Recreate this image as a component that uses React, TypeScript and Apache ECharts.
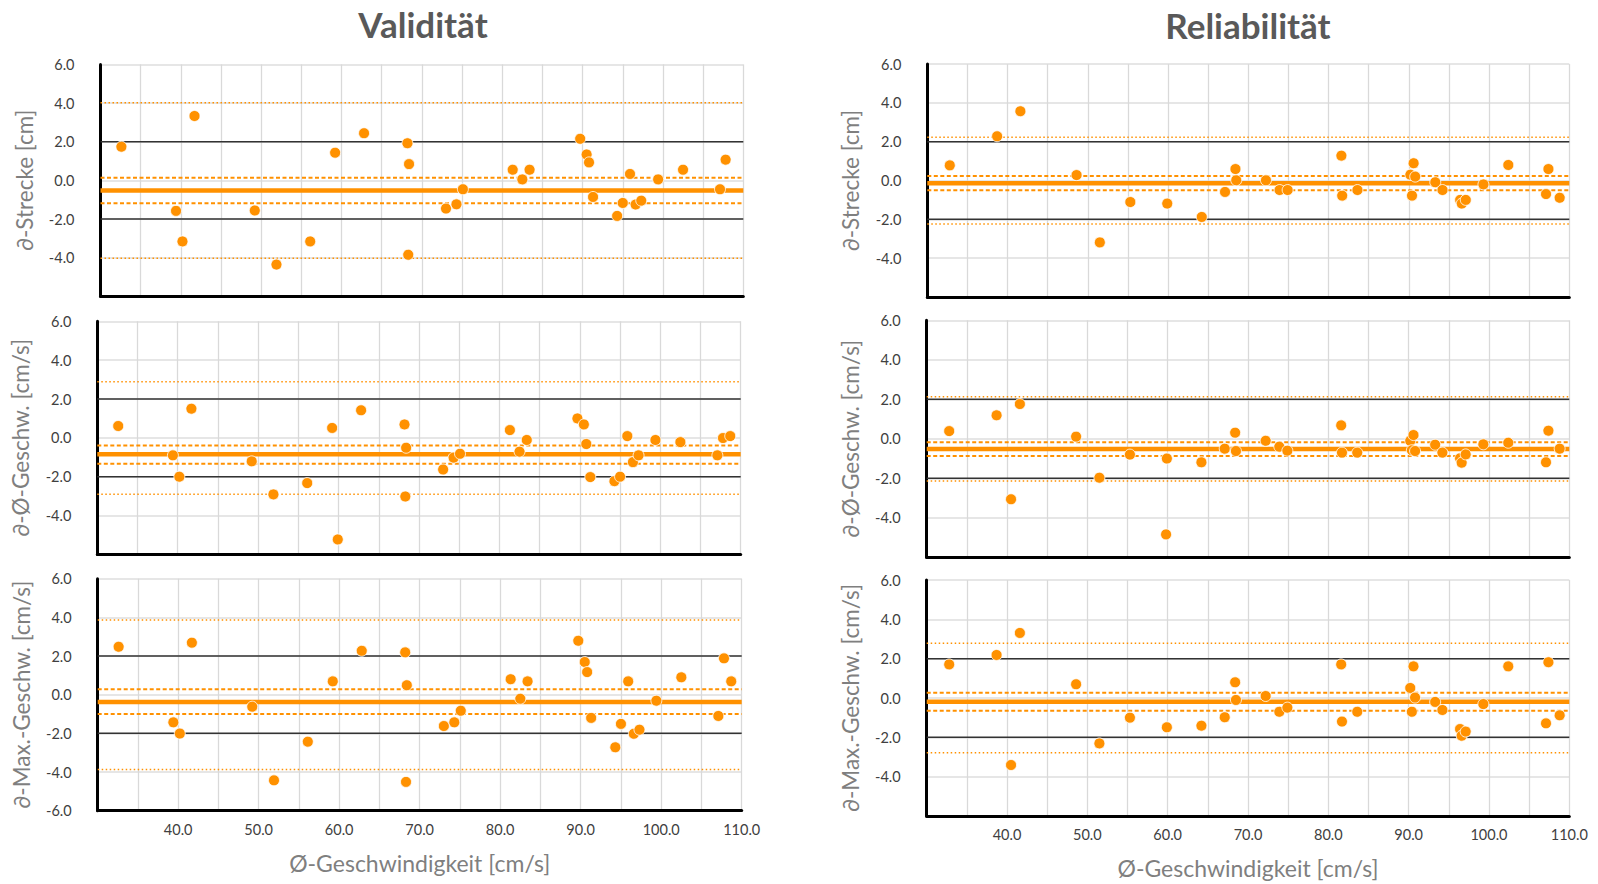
import React, { useEffect, useRef } from 'react';
import * as echarts from 'echarts';

// ---------------- DATA ----------------
const columnTitles = ['Validität', 'Reliabilität'];
const yAxisNames = ['∂-Strecke [cm]', '∂-Ø-Geschw. [cm/s]', '∂-Max.-Geschw. [cm/s]'];
const xAxisName = 'Ø-Geschwindigkeit [cm/s]';

// mean speed (x) – validity column
const valX = [32.6, 39.4, 40.2, 41.7, 49.2, 51.9, 56.1, 59.2, 59.9, 62.8, 68.2, 68.3, 68.4, 73.0, 74.3, 75.1, 81.3, 82.5, 83.4,
  89.7, 90.5, 90.8, 91.3, 94.3, 95.0, 95.9, 96.6, 97.3, 99.4, 102.5, 107.1, 107.8, 108.7];
const valStreckeY = [1.74, -1.58, -3.16, 3.33, -1.56, -4.36, -3.16, 1.43, null, 2.44, 1.92, -3.85, 0.84, -1.46, -1.24, -0.46, 0.55, 0.05, 0.55,
  2.15, 1.34, 0.93, -0.86, -1.84, -1.17, 0.33, -1.25, -1.05, 0.05, 0.55, -0.46, 1.07, null];
const valMittelY = [0.61, -0.90, -2.0, 1.50, -1.21, -2.91, -2.33, 0.51, -5.23, 1.42, 0.69, -3.02, -0.51, -1.63, -1.02, -0.82, 0.40, -0.71, -0.11,
  1.0, 0.69, -0.32, -2.02, -2.23, -2.0, 0.09, -1.25, -0.90, -0.11, -0.22, -0.90, -0.01, 0.09];
const valMaxY = [2.48, -1.43, -2.01, 2.69, -0.62, -4.43, -2.43, 0.69, null, 2.27, 2.19, -4.51, 0.49, -1.62, -1.43, -0.83, 0.80, -0.21, 0.69,
  2.79, 1.69, 1.17, -1.2, -2.72, -1.51, 0.69, -2.02, -1.81, -0.31, 0.90, -1.10, 1.88, 0.69];

// mean speed (x) – reliability column
const relX = [32.8, 38.7, 40.5, 41.6, 48.6, 51.5, 55.3, 59.8, 59.9, 64.2, 67.1, 68.4, 68.5, 72.2, 73.9, 74.9, 81.6, 81.7, 83.6,
  90.2, 90.4, 90.6, 90.8, 93.3, 94.2, 96.4, 96.6, 97.1, 99.3, 102.4, 107.1, 107.4, 108.8];
const relStreckeY = [0.78, 2.28, null, 3.57, 0.28, -3.19, -1.11, null, -1.19, -1.88, -0.59, 0.59, 0.01, 0.01, -0.49, -0.49, 1.28, -0.78, -0.49,
  0.30, -0.78, 0.89, 0.20, -0.09, -0.49, -1.0, -1.19, -1.0, -0.2, 0.80, -0.70, 0.59, -0.89];
const relMittelY = [0.39, 1.19, -3.06, 1.76, 0.11, -1.97, -0.80, -4.84, -1.0, -1.19, -0.50, 0.31, -0.62, -0.10, -0.40, -0.60, 0.68, -0.70, -0.70,
  -0.10, -0.58, 0.19, -0.62, -0.30, -0.70, -0.99, -1.21, -0.79, -0.28, -0.20, -1.19, 0.41, -0.50];
const relMaxY = [1.71, 2.19, -3.41, 3.31, 0.70, -2.31, -1.0, null, -1.49, -1.41, -0.98, 0.80, -0.10, 0.10, -0.70, -0.49, 1.71, -1.20, -0.70,
  0.51, -0.70, 1.61, 0.02, -0.20, -0.61, -1.58, -1.92, -1.71, -0.31, 1.61, -1.29, 1.82, -0.88];

// reference lines: [mean, CI low, CI high, LoA low, LoA high]
const valStreckeLines = [-0.53, -1.19, 0.14, -4.03, 4.02];
const valMittelLines = [-0.85, -1.33, -0.39, -2.90, 2.89];
const valMaxLines = [-0.38, -1.00, 0.28, -3.87, 3.87];
const relStreckeLines = [-0.14, -0.50, 0.23, -2.24, 2.23];
const relMittelLines = [-0.52, -0.87, -0.18, -2.14, 2.13];
const relMaxLines = [-0.19, -0.65, 0.27, -2.78, 2.78];
const toleranceLimits = [-2, 2];

const xMin = 30, xMax = 110, xStep = 5;
const yMin = -6, yMax = 6, yStep = 2;

// ---------------- LAYOUT ----------------
const gridBoxes = [
  { l: 100.5, r: 743.3, t: 64.4, b: 296.3 },
  { l: 97.3, r: 740.7, t: 321.3, b: 554.4 },
  { l: 97.7, r: 741.7, t: 578.7, b: 810.7 },
  { l: 927.3, r: 1569.3, t: 64.1, b: 296.9 },
  { l: 926.7, r: 1569.3, t: 320.3, b: 557.3 },
  { l: 926.7, r: 1569.3, t: 580.1, b: 815.9 },
];
const titlePos = [{ x: 423, y: 24 }, { x: 1248, y: 25 }];

const FONT = 'Lato, "Noto Sans", sans-serif';
const ORANGE = '#ff9100';

const panels = [
  { x: valX, y: valStreckeY, lines: valStreckeLines },
  { x: valX, y: valMittelY, lines: valMittelLines },
  { x: valX, y: valMaxY, lines: valMaxLines },
  { x: relX, y: relStreckeY, lines: relStreckeLines },
  { x: relX, y: relMittelY, lines: relMittelLines },
  { x: relX, y: relMaxY, lines: relMaxLines },
];

function hLine(i: number, v: number, style: any, z: number) {
  return {
    type: 'line', xAxisIndex: i, yAxisIndex: i, data: [[xMin, v], [xMax, v]],
    showSymbol: false, symbol: 'none', silent: true, z, lineStyle: style, animation: false,
  };
}

export default function App() {
  const ref = useRef<HTMLDivElement>(null);
  useEffect(() => {
    document.body.style.margin = '0';
    const chart = echarts.init(ref.current!, null, { renderer: 'svg' });
    const grids: any[] = [], xAxes: any[] = [], yAxes: any[] = [], series: any[] = [];
    panels.forEach((p, i) => {
      const row = i % 3;
      const g = gridBoxes[i];
      grids.push({ left: g.l, top: g.t, width: g.r - g.l, height: g.b - g.t, containLabel: false });
      xAxes.push({
        type: 'value', gridIndex: i, min: xMin, max: xMax, interval: xStep,
        axisLine: { show: true, onZero: false, lineStyle: { color: '#000', width: 3 } },
        axisTick: { show: false },
        axisLabel: {
          show: row === 2, fontSize: 14.5, color: '#404040', fontFamily: FONT, margin: 11,
          formatter: (v: number) => (v % 10 === 0 && v !== xMin ? v.toFixed(1) : ''),
        },
        splitLine: { show: true, lineStyle: { color: '#d9d9d9', width: 1.3 } },
        name: row === 2 ? xAxisName : '', nameLocation: 'middle', nameGap: 41,
        nameTextStyle: { fontSize: 23, color: '#7f7f7f', fontFamily: FONT },
      });
      yAxes.push({
        type: 'value', gridIndex: i, min: yMin, max: yMax, interval: yStep,
        axisLine: { show: true, onZero: false, lineStyle: { color: '#000', width: 3 } },
        axisTick: { show: false },
        axisLabel: {
          fontSize: 14.5, color: '#404040', fontFamily: FONT, margin: 26,
          formatter: (v: number) => (v === yMin && i !== 2 ? '' : v.toFixed(1)),
        },
        splitLine: { show: true, lineStyle: { color: '#dedede', width: 1.6 } },
        name: yAxisNames[row], nameLocation: 'middle', nameGap: 65,
        nameTextStyle: { fontSize: 22.5, color: '#7f7f7f', fontFamily: FONT },
      });
      toleranceLimits.forEach((v) => series.push(hLine(i, v, { color: '#333', width: 1.5, type: 'solid' }, 2)));
      const [mean, ciLo, ciHi, loaLo, loaHi] = p.lines;
      [loaLo, loaHi].forEach((v) => series.push(hLine(i, v, { color: ORANGE, width: 1.5, type: [1.5, 2.5] }, 3)));
      [ciLo, ciHi].forEach((v) => series.push(hLine(i, v, { color: ORANGE, width: 2, type: [4, 2.5] }, 3)));
      series.push(hLine(i, mean, { color: ORANGE, width: 4.5, type: 'solid' }, 3));
      const pts: number[][] = [];
      p.x.forEach((xv, k) => { const yv = p.y[k]; if (yv !== null && yv !== undefined) pts.push([xv, yv as number]); });
      series.push({
        type: 'scatter', xAxisIndex: i, yAxisIndex: i, data: pts, symbol: 'circle', symbolSize: 11, z: 5,
        itemStyle: { color: ORANGE, borderColor: '#fff', borderWidth: 0.8, opacity: 1 },
      });
    });
    chart.setOption({
      animation: false,
      backgroundColor: '#fff',
      textStyle: { fontFamily: FONT },
      grid: grids, xAxis: xAxes, yAxis: yAxes, series,
      graphic: columnTitles.map((t, c) => ({
        type: 'text', x: titlePos[c].x, y: titlePos[c].y,
        style: { text: t, fill: '#595959', font: `bold 35px ${FONT}`, align: 'center', verticalAlign: 'middle' },
      })),
    });
    return () => chart.dispose();
  }, []);
  return <div ref={ref} style={{ position: 'absolute', left: 0, top: 0, width: 1598, height: 884 }} />;
}
